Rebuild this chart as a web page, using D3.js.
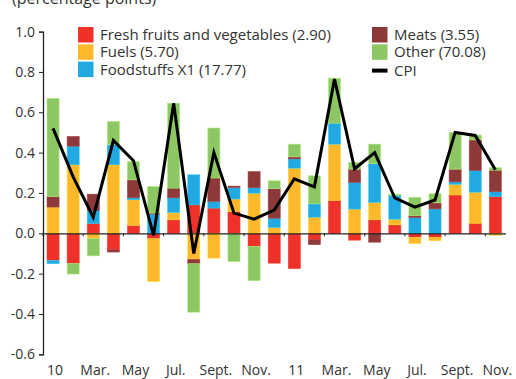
<!DOCTYPE html>
<html>
<head>
<meta charset="utf-8">
<script src="https://cdn.jsdelivr.net/npm/d3@7"></script>
<style>
  html, body { margin: 0; padding: 0; background: #fff; }
  svg { display: block; font-family: "Open Sans", "Noto Sans", sans-serif; }
</style>
</head>
<body>
<svg id="chart" width="516" height="379"></svg>
<script>
// Monthly contributions to CPI change, Jan 2010 – Nov 2011 (percentage points)
const months = ["2010-01","2010-02","2010-03","2010-04","2010-05","2010-06","2010-07","2010-08","2010-09","2010-10","2010-11","2010-12",
                "2011-01","2011-02","2011-03","2011-04","2011-05","2011-06","2011-07","2011-08","2011-09","2011-10","2011-11"];

const fresh  = [-0.135,-0.150, 0.049,-0.082, 0.039,-0.027, 0.067, 0.141, 0.125, 0.107,-0.065,-0.148,
                -0.175,-0.032, 0.163,-0.034, 0.067, 0.042,-0.021,-0.021, 0.190, 0.050, 0.182];
const fuels  = [ 0.130, 0.340,-0.027, 0.340, 0.127,-0.212, 0.036,-0.130,-0.123, 0.063, 0.199, 0.029,
                 0.323, 0.080, 0.279, 0.120, 0.086, 0.028,-0.030,-0.016, 0.053, 0.154,-0.010];
const food   = [-0.016, 0.092, 0.064, 0.099, 0.010, 0.095, 0.073, 0.149, 0.033, 0.057, 0.027, 0.046,
                 0.046, 0.066, 0.104, 0.132, 0.192, 0.119, 0.078, 0.121, 0.012, 0.107, 0.024];
const meats  = [ 0.052, 0.048, 0.081,-0.011, 0.089, 0.005, 0.048,-0.021, 0.116, 0.007, 0.080, 0.146,
                 0.010,-0.024, 0.000, 0.066,-0.044, 0.000, 0.009, 0.030, 0.063, 0.152, 0.107];
const other  = [ 0.487,-0.052,-0.085, 0.115, 0.091, 0.132, 0.421,-0.240, 0.248,-0.140,-0.170, 0.039,
                 0.063, 0.139, 0.223, 0.033, 0.097, 0.005, 0.091, 0.045, 0.182, 0.024, 0.012];
const cpi    = [ 0.520, 0.280, 0.080, 0.460, 0.360,-0.010, 0.645,-0.100, 0.400, 0.100, 0.070, 0.115,
                 0.270, 0.230, 0.765, 0.320, 0.400, 0.175, 0.130, 0.165, 0.500, 0.485, 0.315];

const seriesKeys   = ["fresh","fuels","food","meats","other"];
const seriesLabels = ["Fresh fruits and vegetables (2.90)","Fuels (5.70)","Foodstuffs X1 (17.77)","Meats (3.55)","Other (70.08)"];
const seriesColors = ["#ee3129","#fdb92b","#23a9e1","#8d393a","#8cc763"];

const xTickLabels = ["10","Mar.","May","Jul.","Sept.","Nov.","11","Mar.","May","Jul.","Sept.","Nov."];
const yTicks = [-0.6,-0.4,-0.2,0.0,0.2,0.4,0.6,0.8,1.0];

const rows = months.map((m, i) => ({
  month: m, fresh: fresh[i], fuels: fuels[i], food: food[i], meats: meats[i], other: other[i], cpi: cpi[i]
}));

const svg = d3.select("#chart");

const x = d3.scaleBand().domain(months).range([43, 505.4]).paddingInner(0.4).paddingOuter(0.2);
const y = d3.scaleLinear().domain([-0.6, 1.0]).range([354.3, 31.6]);
const color = d3.scaleOrdinal().domain(seriesKeys).range(seriesColors);

// Stacked contributions, positives up and negatives down from zero
const stacked = d3.stack().keys(seriesKeys).offset(d3.stackOffsetDiverging)(rows);

svg.append("g").selectAll("g")
  .data(stacked)
  .join("g")
    .attr("fill", d => color(d.key))
    .attr("stroke", d => d3.color(color(d.key)).brighter(0.5))
    .attr("stroke-width", 0.6)
  .selectAll("rect")
  .data(d => d)
  .join("rect")
    .attr("x", d => x(d.data.month))
    .attr("width", x.bandwidth())
    .attr("y", d => y(Math.max(d[0], d[1])))
    .attr("height", d => Math.abs(y(d[0]) - y(d[1])));

// Y axis
const yAxis = d3.axisLeft(y).tickValues(yTicks).tickSize(4).tickPadding(4)
  .tickFormat(d => d.toFixed(1));
const gy = svg.append("g").attr("transform", "translate(43,0)").call(yAxis);
gy.select(".domain").attr("stroke", "#222").attr("stroke-width", 1.3);
gy.selectAll(".tick line").attr("stroke", "#222");
gy.selectAll(".tick text").attr("fill", "#333").attr("font-size", 14)
  .attr("font-family", "'Open Sans', 'Noto Sans', sans-serif");

// Zero line with month ticks
const step = x.step();
const zeroY = y(0);
const xAxis = d3.axisBottom(x).tickSize(0).tickFormat((d, i) => i % 2 === 0 ? xTickLabels[i / 2] : "");
const gx = svg.append("g").attr("transform", `translate(0,${zeroY})`).call(xAxis);
gx.select(".domain").attr("stroke", "#222").attr("stroke-width", 1.2);
gx.selectAll(".tick text")
  .attr("fill", "#333").attr("font-size", 14)
  .attr("font-family", "'Open Sans', 'Noto Sans', sans-serif")
  .attr("dx", 2)
  .attr("y", 375.5 - zeroY)
  .attr("dy", 0);
gx.selectAll(".tick")
  .filter((d, i) => i % 2 === 0)
  .append("line")
    .attr("x1", -step / 2 + x.bandwidth() / 2).attr("x2", -step / 2 + x.bandwidth() / 2)
    .attr("y1", 0).attr("y2", 3)
    .attr("stroke", "#222");
gx.selectAll(".tick line").attr("transform", `translate(${-x.bandwidth() / 2},0)`);

// CPI line
const line = d3.line()
  .x(d => x(d.month) + x.bandwidth() / 2)
  .y(d => y(d.cpi));
svg.append("path")
  .datum(rows)
  .attr("fill", "none")
  .attr("stroke", "#000")
  .attr("stroke-width", 3)
  .attr("d", line);

// Unit note
svg.append("text")
  .attr("x", 12).attr("y", 4)
  .attr("font-size", 16).attr("fill", "#333")
  .text("(percentage points)");

// Legend
const legend = svg.append("g").attr("font-size", 15).attr("fill", "#333");
const legendPos = [[78, 27], [78, 44.3], [78, 61.6], [372, 27], [372, 44.3]];
seriesKeys.forEach((k, i) => {
  const [lx, ly] = legendPos[i];
  legend.append("rect").attr("x", lx).attr("y", ly).attr("width", 15.5).attr("height", 15.5)
    .attr("fill", color(k));
  legend.append("text").attr("x", lx + 22).attr("y", ly + 13).attr("fill", "#333").text(seriesLabels[i]);
});
legend.append("line").attr("x1", 372).attr("x2", 387.5).attr("y1", 70.6).attr("y2", 70.6)
  .attr("stroke", "#000").attr("stroke-width", 4);
legend.append("text").attr("x", 394).attr("y", 75.6).attr("fill", "#333").text("CPI");
</script>
</body>
</html>
